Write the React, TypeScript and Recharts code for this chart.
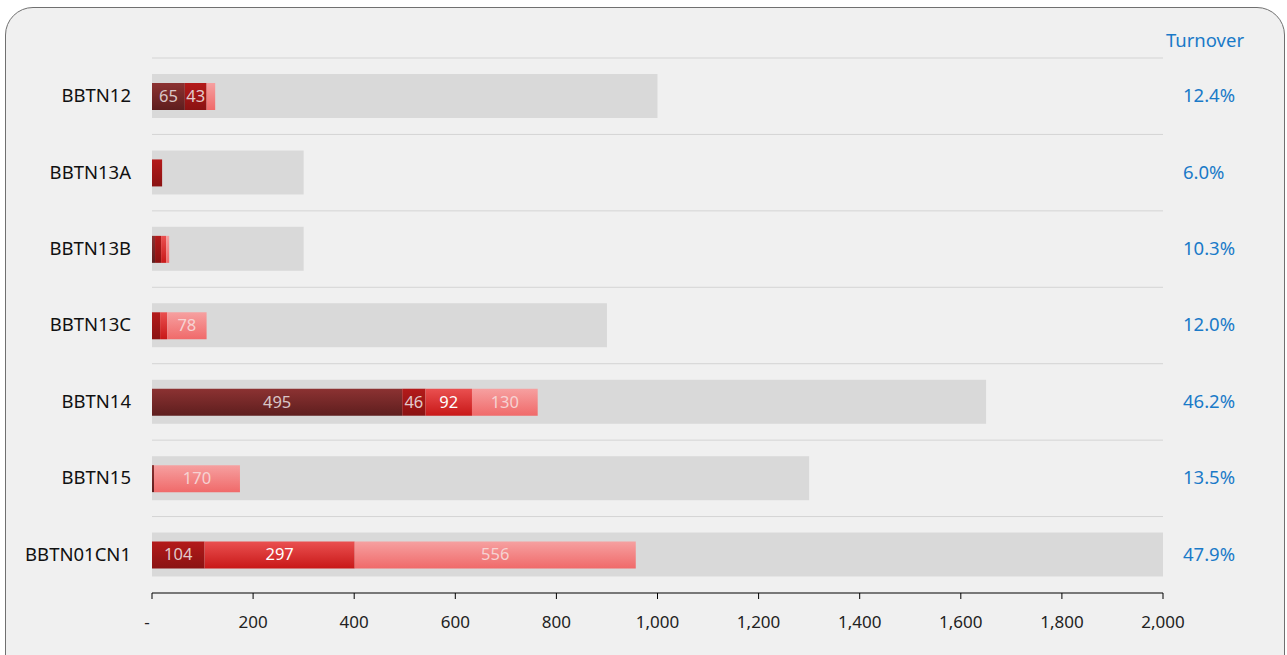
import React from "react";
import { BarChart, Bar, XAxis, YAxis, CartesianGrid, LabelList } from "recharts";

const categories = ["BBTN12", "BBTN13A", "BBTN13B", "BBTN13C", "BBTN14", "BBTN15", "BBTN01CN1"];
const capacity = [1000, 300, 300, 900, 1650, 1300, 2000];
const seriesA = [65, 0, 6, 0, 495, 4, 0];
const seriesB = [43, 20, 12, 16, 46, 0, 104];
const seriesC = [0, 0, 10, 14, 92, 0, 297];
const seriesD = [17, 0, 6, 78, 130, 170, 556];
const turnover = ["12.4%", "6.0%", "10.3%", "12.0%", "46.2%", "13.5%", "47.9%"];
const xTicks = [0, 200, 400, 600, 800, 1000, 1200, 1400, 1600, 1800, 2000];

const data = categories.map((c, i) => ({
  name: c,
  cap: capacity[i],
  a: seriesA[i],
  b: seriesB[i],
  c: seriesC[i],
  d: seriesD[i],
  turnover: turnover[i],
}));

const FONT = "'Noto Sans', 'Open Sans', sans-serif";

const makeLabel = (color: string) => (props: any) => {
  const { x, y, width, height, value } = props;
  if (!value || value < 30) return null;
  return (
    <text
      x={x + width / 2}
      y={y + height / 2 + 1}
      textAnchor="middle"
      dominantBaseline="middle"
      fill={color}
      fontSize={16.5}
      fontFamily={FONT}
    >
      {value}
    </text>
  );
};

const LeftTick = (props: any) => {
  const { x, y, payload } = props;
  return (
    <text x={x} y={y + 1} textAnchor="end" dominantBaseline="middle" fill="#111" fontSize={18.5} fontFamily={FONT}>
      {payload.value}
    </text>
  );
};

const RightTick = (props: any) => {
  const { x, y, payload } = props;
  const idx = categories.indexOf(payload.value);
  return (
    <text x={x} y={y + 1} textAnchor="start" dominantBaseline="middle" fill="#1a7ac8" fontSize={18.5} fontFamily={FONT}>
      {turnover[idx]}
    </text>
  );
};

const XTick = (props: any) => {
  const { x, y, payload } = props;
  const v = payload.value as number;
  const label = v === 0 ? "-" : v.toLocaleString("en-US");
  return (
    <text x={v === 0 ? x - 5 : x} y={y + 8} textAnchor="middle" dominantBaseline="middle" fill="#222" fontSize={17} fontFamily={FONT}>
      {label}
    </text>
  );
};

export default function App() {
  return (
    <div style={{ position: "absolute", left: 0, top: 0, width: 1287, height: 655, overflow: "hidden", background: "#fff", fontFamily: FONT }}>
      <div
        style={{
          position: "absolute",
          left: 5,
          top: 7,
          width: 1280,
          height: 700,
          border: "1px solid #707070",
          borderRadius: 28,
          background: "#f0f0f0",
          boxSizing: "border-box",
        }}
      />
      <div style={{ position: "absolute", left: 1160, top: 27, width: 90, textAlign: "center", color: "#1a7ac8", fontSize: 18.5 }}>
        Turnover
      </div>
      <div style={{ position: "absolute", left: 0, top: 0 }}>
        <BarChart
          width={1287}
          height={655}
          data={data}
          layout="vertical"
          margin={{ top: 58, right: 4, bottom: 22, left: 12 }}
          style={{ fontFamily: FONT }}
        >
          <defs>
            <linearGradient id="gA" x1="0" y1="0" x2="0" y2="1">
              <stop offset="0%" stopColor="#8c3232" />
              <stop offset="100%" stopColor="#5e1e1e" />
            </linearGradient>
            <linearGradient id="gB" x1="0" y1="0" x2="0" y2="1">
              <stop offset="0%" stopColor="#b41a1a" />
              <stop offset="100%" stopColor="#8a1212" />
            </linearGradient>
            <linearGradient id="gC" x1="0" y1="0" x2="0" y2="1">
              <stop offset="0%" stopColor="#ea5050" />
              <stop offset="100%" stopColor="#c81818" />
            </linearGradient>
            <linearGradient id="gD" x1="0" y1="0" x2="0" y2="1">
              <stop offset="0%" stopColor="#f6a0a0" />
              <stop offset="100%" stopColor="#f06a6a" />
            </linearGradient>
          </defs>
          <CartesianGrid
            vertical={false}
            stroke="#d4d4d4"
            strokeWidth={1}
            horizontalCoordinatesGenerator={(p: any) => {
              const top = p.offset.top;
              const h = p.offset.height;
              return categories.map((_, i) => top + (i * h) / categories.length);
            }}
          />
          <XAxis
            type="number"
            domain={[0, 2000]}
            ticks={xTicks}
            interval={0}
            height={40}
            axisLine={{ stroke: "#000" }}
            tickLine={{ stroke: "#000" }}
            tickSize={6}
            tickMargin={16}
            tick={<XTick />}
          />
          <YAxis
            yAxisId="left"
            type="category"
            dataKey="name"
            width={140}
            axisLine={false}
            tickLine={false}
            tickSize={0}
            tickMargin={21}
            tick={<LeftTick />}
          />
          <YAxis
            yAxisId="right"
            orientation="right"
            type="category"
            dataKey="name"
            width={120}
            axisLine={false}
            tickLine={false}
            tickSize={0}
            tickMargin={20}
            tick={<RightTick />}
          />
          <Bar yAxisId="right" dataKey="cap" fill="#d9d9d9" barSize={44} isAnimationActive={false} />
          <Bar yAxisId="left" dataKey="a" stackId="v" fill="url(#gA)" barSize={27} isAnimationActive={false}>
            <LabelList dataKey="a" content={makeLabel("#d9c6c6")} />
          </Bar>
          <Bar yAxisId="left" dataKey="b" stackId="v" fill="url(#gB)" barSize={27} isAnimationActive={false}>
            <LabelList dataKey="b" content={makeLabel("#e2caca")} />
          </Bar>
          <Bar yAxisId="left" dataKey="c" stackId="v" fill="url(#gC)" barSize={27} isAnimationActive={false}>
            <LabelList dataKey="c" content={makeLabel("#ffffff")} />
          </Bar>
          <Bar yAxisId="left" dataKey="d" stackId="v" fill="url(#gD)" barSize={27} isAnimationActive={false}>
            <LabelList dataKey="d" content={makeLabel("#f6d2d2")} />
          </Bar>
        </BarChart>
      </div>
    </div>
  );
}
